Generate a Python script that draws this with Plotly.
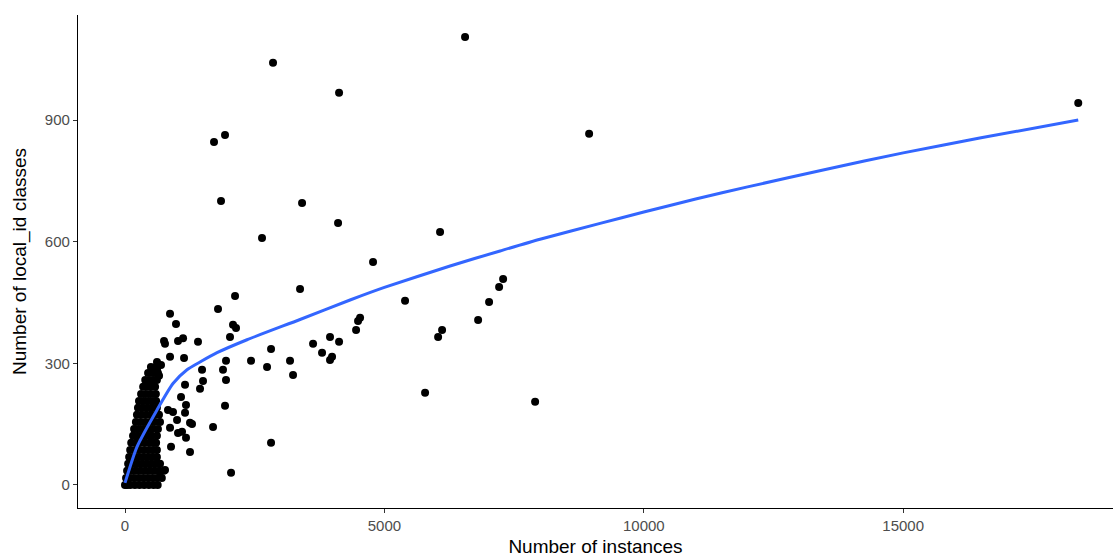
import plotly.graph_objects as go

# ---- scattered (sparse) observations: number of instances vs number of local_id classes
sparse_x = [6555, 2853, 4126, 1928, 1716, 8946, 18374, 1851, 3413, 2641, 4107, 6073, 4781,
            2121, 3374, 1793, 5398, 6806, 7018, 7211, 7288, 4531, 4492, 4454, 3625, 3798,
            3952, 4126, 3952, 3991, 3181, 3239, 6112, 6035, 5784, 7905, 2815, 2429, 2738,
            2815, 2044, 2082, 2140, 2024, 1407, 1947, 1889, 1947, 1485, 1504, 1446, 1928,
            1697, 1253, 1176, 1099, 1253, 1292, 1157, 1176, 1080, 1157, 1138, 1119, 1022,
            868, 752, 771, 983, 868, 617, 694, 617, 656, 424, 925, 829, 1003, 868, 1022,
            887, 675, 771]
sparse_y = [1105, 1041, 967, 863, 846, 866, 942, 700, 695, 609, 646, 624, 550,
            466, 483, 434, 454, 407, 451, 488, 508, 412, 404, 382, 348, 326,
            365, 353, 308, 316, 306, 271, 382, 365, 227, 205, 335, 306, 291,
            104, 30, 395, 387, 365, 353, 306, 284, 259, 284, 256, 237, 195,
            143, 81, 116, 131, 153, 150, 178, 197, 217, 247, 313, 362, 355,
            316, 355, 348, 397, 422, 303, 296, 284, 269, 254, 180, 185, 160, 141, 128,
            94, 32, 37]

# ---- dense cluster of small datasets near the origin (rows of equal class count)
dense_rows_y = [0, 17, 35, 52, 69, 86, 104, 121, 138, 155, 173, 190, 207, 224, 242, 259, 276, 291]
dense_rows_x = [
    [0, 40, 100, 190, 280, 370, 460, 550, 630],
    [20, 90, 170, 260, 350, 440, 530, 620, 710],
    [40, 120, 210, 300, 390, 480, 570, 660, 750],
    [60, 150, 240, 330, 420, 510, 600, 675],
    [80, 170, 260, 350, 440, 530, 615],
    [100, 190, 280, 370, 460, 540, 615],
    [120, 210, 300, 390, 480, 560, 600],
    [155, 240, 330, 420, 510, 615],
    [175, 260, 350, 440, 530, 635],
    [210, 300, 390, 480, 570, 675],
    [230, 320, 410, 500, 590, 655],
    [250, 340, 430, 520, 615],
    [270, 360, 450, 540, 600],
    [310, 400, 490, 595],
    [350, 440, 520, 580],
    [390, 480, 560, 615],
    [445, 540, 635],
    [500, 595],
]

# ---- smoothed trend
smooth_x = [0, 231, 617, 925, 1195, 1446, 1774, 2352, 3374, 4338, 5000, 6266, 7230, 8000,
            9158, 10000, 11000, 12000, 13500, 15000, 16500, 18374]
smooth_y = [5, 94, 185, 250, 284, 303, 326, 358, 408, 456, 487, 540, 577, 606,
            645, 673, 705, 735, 778, 819, 856, 900]

x_ticks = [0, 5000, 10000, 15000]
y_ticks = [0, 300, 600, 900]

dense_x = [x for row in dense_rows_x for x in row]
dense_y = [y for row, y in zip(dense_rows_x, dense_rows_y) for _ in row]

all_x = dense_x + sparse_x
all_y = dense_y + sparse_y

fig = go.Figure()
fig.add_trace(go.Scatter(
    x=all_x, y=all_y, mode="markers",
    marker=dict(color="black", size=8, line=dict(width=0)),
    showlegend=False, hoverinfo="x+y"))
fig.add_trace(go.Scatter(
    x=smooth_x, y=smooth_y, mode="lines",
    line=dict(color="#3366FF", width=3, shape="spline", smoothing=0.6),
    showlegend=False))

axis_common = dict(
    showgrid=False, zeroline=False, showline=True, linecolor="black", linewidth=1.2,
    ticks="outside", ticklen=4, tickwidth=1.2, tickcolor="#333333",
    tickfont=dict(family="Liberation Sans, Arial, sans-serif", size=15, color="#4D4D4D"),
)

fig.update_layout(
    width=1115, height=557,
    margin=dict(l=78, r=2, t=15, b=49),
    paper_bgcolor="white", plot_bgcolor="white",
    font=dict(family="Liberation Sans, Arial, sans-serif"),
    xaxis=dict(range=[-906, 19044], tickvals=x_ticks, ticktext=[str(v) for v in x_ticks],
               title=dict(text="Number of instances", font=dict(size=19, color="black"), standoff=7),
               **axis_common),
    yaxis=dict(range=[-57, 1159], tickvals=y_ticks, ticktext=[str(v) for v in y_ticks],
               title=dict(text="Number of local_id classes", font=dict(size=19, color="black"), standoff=13),
               **axis_common),
)

fig.write_html("out.html")
